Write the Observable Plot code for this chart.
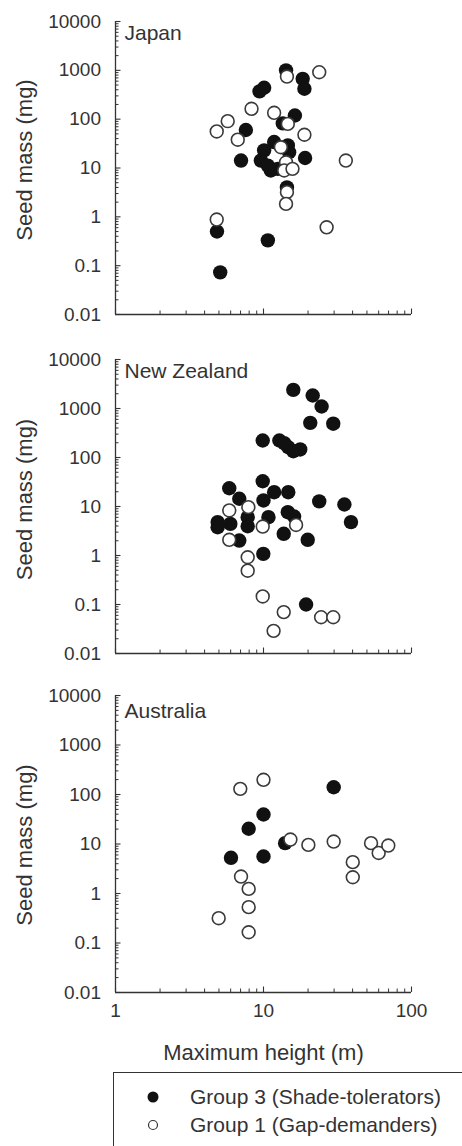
<!DOCTYPE html>
<html>
<head>
<meta charset="utf-8">
<script src="https://cdn.jsdelivr.net/npm/d3@7"></script>
<script src="https://cdn.jsdelivr.net/npm/@observablehq/plot@0.6"></script>
<style>
  html, body { margin: 0; padding: 0; background: #fff; overflow: hidden; }
  #wrap { position: relative; width: 462px; height: 1146px; overflow: hidden; font-family: 'Liberation Sans', Arial, Helvetica, sans-serif; color: #333; }
  .panel { position: absolute; left: 0; }
  #legend { position: absolute; left: 113px; top: 1072px; width: 420px; height: 120px; border: 1.2px solid #333; box-sizing: border-box; }
  .lrow { position: absolute; left: 0; height: 28px; display: flex; align-items: center; font-size: 21px; white-space: nowrap; }
</style>
</head>
<body>
<div id="wrap"></div>
<script>
// ---- Data ----
const countries = ["Japan", "New Zealand", "Australia"];

// Japan
const japanG3Height = [4.85, 5.1, 7.6, 7.05, 9.4, 10.1, 10.7, 14.2, 18.4, 18.9, 16.3, 13.5, 11.8, 14.6, 10.1, 9.6, 10.7, 11.2, 12.5, 14.9, 19.1, 14.4];
const japanG3Mass   = [0.5, 0.073, 60, 14.2, 370, 440, 0.33, 1000, 670, 420, 119, 82, 34, 29, 23, 14.2, 11.2, 8.9, 9.6, 21, 16, 4.0];
const japanG1Height = [4.83, 5.73, 6.7, 8.3, 11.8, 4.83, 23.8, 14.4, 14.6, 18.9, 13.1, 14.2, 13.8, 15.7, 14.4, 14.2, 36, 26.7];
const japanG1Mass   = [56, 91, 38, 163, 135, 0.88, 915, 746, 80, 48, 26.6, 13.1, 8.9, 9.6, 3.2, 1.84, 14.2, 0.61];

// New Zealand
const nzG3Height = [15.9, 21.5, 24.7, 20.7, 29.6, 9.88, 12.8, 13.8, 14.7, 15.9, 17.7, 9.88, 5.87, 11.8, 14.7, 6.86, 10.0, 23.8, 35.2, 39.0, 14.6, 16.1, 10.8, 7.82, 7.82, 4.9, 4.9, 5.97, 6.86, 13.7, 19.9, 9.97, 19.4];
const nzG3Mass   = [2400, 1840, 1100, 510, 490, 222, 222, 196, 162, 134, 146, 32.8, 23.6, 19.6, 19.6, 14.4, 13.3, 12.7, 11.0, 4.8, 7.65, 6.25, 6.05, 6.05, 3.96, 4.8, 3.78, 4.43, 2.02, 2.77, 2.09, 1.08, 0.1];
const nzG1Height = [5.87, 7.9, 5.87, 9.88, 16.6, 7.82, 7.82, 9.88, 13.7, 11.7, 24.5, 29.6];
const nzG1Mass   = [8.3, 9.7, 2.09, 3.9, 4.2, 0.92, 0.49, 0.146, 0.07, 0.029, 0.055, 0.055];

// Australia
const auG3Height = [6.03, 7.94, 10.0, 10.0, 14.0, 29.8];
const auG3Mass   = [5.26, 20.3, 39.4, 5.59, 10.4, 140];
const auG1Height = [6.97, 10.0, 15.2, 20.1, 29.8, 40.1, 40.1, 53.3, 60, 69.7, 7.05, 7.94, 7.94, 7.94, 4.98];
const auG1Mass   = [130, 198, 12.3, 9.6, 11.2, 4.3, 2.13, 10.4, 6.6, 9.3, 2.2, 1.24, 0.53, 0.165, 0.317];

// Ticks
const yMajorTicks = [0.01, 0.1, 1, 10, 100, 1000, 10000];
const yTickLabels = ["0.01", "0.1", "1", "10", "100", "1000", "10000"];
const xMajorTicks = [1, 10, 100];
const xTickLabels = ["1", "10", "100"];

const yLabel = "Seed mass (mg)";
const xLabel = "Maximum height (m)";
const legendLabels = ["Group 3 (Shade-tolerators)", "Group 1 (Gap-demanders)"];

// ---- Build ----
const FONT = "'Liberation Sans', Arial, Helvetica, sans-serif";
const INK = "#333";

const minorOf = (majors) => {
  const out = [];
  for (let i = 0; i < majors.length - 1; i++) for (let k = 2; k <= 9; k++) out.push(majors[i] * k);
  return out;
};
const yMinorTicks = minorOf(yMajorTicks);
const xMinorTicks = minorOf(xMajorTicks);

const zip = (hs, ms) => hs.map((h, i) => ({height: h, mass: ms[i]}));

const panels = [
  {title: countries[0], g3: zip(japanG3Height, japanG3Mass), g1: zip(japanG1Height, japanG1Mass), top: 0, marginTop: 21, area: 293, marginBottom: 6, titleDy: 4, labelDy: -8, xLabels: false},
  {title: countries[1], g3: zip(nzG3Height, nzG3Mass), g1: zip(nzG1Height, nzG1Mass), top: 320, marginTop: 39, area: 294, marginBottom: 6, titleDy: 4, labelDy: -7, xLabels: false},
  {title: countries[2], g3: zip(auG3Height, auG3Mass), g1: zip(auG1Height, auG1Mass), top: 659, marginTop: 36, area: 297, marginBottom: 74, titleDy: 8, labelDy: 1, xLabels: true}
];

const wrap = document.getElementById("wrap");

for (const p of panels) {
  const marks = [
    Plot.axisY(yMinorTicks, {anchor: "left", tickSize: 3.5, dx: 3.5, tickFormat: () => "", label: null, stroke: INK, strokeWidth: 1}),
    Plot.axisY(yMajorTicks, {anchor: "left", tickSize: 5.5, dx: 5.5, tickFormat: () => "", label: null, stroke: INK, strokeWidth: 1.1}),
    Plot.axisX(xMinorTicks, {anchor: "bottom", tickSize: 3.5, dy: -3.5, tickFormat: () => "", label: null, stroke: INK, strokeWidth: 1}),
    Plot.axisX(xMajorTicks, {anchor: "bottom", tickSize: 5.5, dy: -5.5, tickFormat: () => "", label: null, stroke: INK, strokeWidth: 1.1}),
    Plot.axisY(yMajorTicks, {anchor: "left", tickSize: 0, tickPadding: 14.5, tickFormat: d => yTickLabels[yMajorTicks.indexOf(d)], label: null, fontSize: 19, fill: INK}),
    Plot.ruleX([1], {stroke: INK, strokeWidth: 1.3}),
    Plot.ruleY([0.01], {stroke: INK, strokeWidth: 1.3}),
    Plot.text([p.title], {frameAnchor: "top-left", dx: 9, dy: p.titleDy, lineAnchor: "top", textAnchor: "start", fontSize: 21, fill: INK}),
    Plot.text([yLabel], {frameAnchor: "left", rotate: -90, dx: -91, dy: p.labelDy, textAnchor: "middle", lineAnchor: "middle", fontSize: 22, fill: INK}),
    Plot.dot(p.g3, {x: "height", y: "mass", r: 7.2, fill: "#111", stroke: "none"}),
    Plot.dot(p.g1, {x: "height", y: "mass", r: 6.4, fill: "white", stroke: "#3a3a3a", strokeWidth: 1.6})
  ];
  if (p.xLabels) {
    marks.push(Plot.axisX(xMajorTicks, {anchor: "bottom", tickSize: 0, tickPadding: 11, tickFormat: d => xTickLabels[xMajorTicks.indexOf(d)], label: null, fontSize: 19, fill: INK}));
    marks.push(Plot.text([xLabel], {frameAnchor: "bottom", dy: 60, textAnchor: "middle", lineAnchor: "middle", fontSize: 22, fill: INK}));
  }
  const chart = Plot.plot({
    width: 462,
    height: p.marginTop + p.area + p.marginBottom,
    marginLeft: 115,
    marginRight: 51,
    marginTop: p.marginTop,
    marginBottom: p.marginBottom,
    style: {fontFamily: FONT, color: INK, background: "transparent", overflow: "visible"},
    x: {type: "log", domain: [1, 100]},
    y: {type: "log", domain: [0.01, 10000]},
    marks
  });
  const div = document.createElement("div");
  div.className = "panel";
  div.style.top = p.top + "px";
  div.appendChild(chart);
  wrap.appendChild(div);
}

// Legend
const legend = document.createElement("div");
legend.id = "legend";
const rowCenters = [24, 52];
legendLabels.forEach((lab, i) => {
  const row = document.createElement("div");
  row.className = "lrow";
  row.style.top = (rowCenters[i] - 14) + "px";
  const ns = "http://www.w3.org/2000/svg";
  const svg = document.createElementNS(ns, "svg");
  svg.setAttribute("width", "76");
  svg.setAttribute("height", "28");
  const c = document.createElementNS(ns, "circle");
  c.setAttribute("cx", "39");
  c.setAttribute("cy", "14");
  if (i === 0) { c.setAttribute("r", "5.5"); c.setAttribute("fill", "#111"); }
  else { c.setAttribute("r", "4.5"); c.setAttribute("fill", "white"); c.setAttribute("stroke", "#333"); c.setAttribute("stroke-width", "1.2"); }
  svg.appendChild(c);
  row.appendChild(svg);
  const t = document.createElement("span");
  t.textContent = lab;
  row.appendChild(t);
  legend.appendChild(row);
});
wrap.appendChild(legend);
</script>
</body>
</html>
